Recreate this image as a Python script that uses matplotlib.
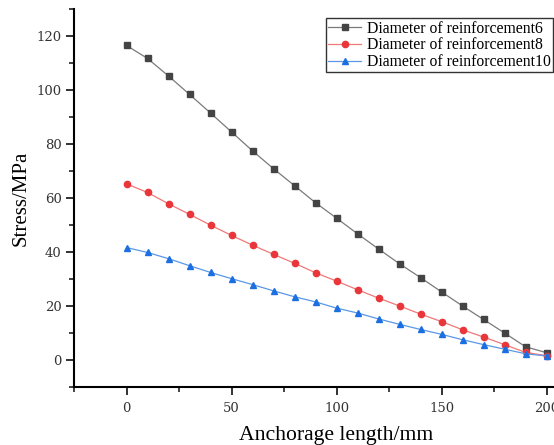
import matplotlib
matplotlib.use("Agg")
import matplotlib.pyplot as plt
from matplotlib.ticker import MultipleLocator

x = [0, 10, 20, 30, 40, 50, 60, 70, 80, 90, 100, 110, 120, 130, 140, 150, 160, 170, 180, 190, 200]
d6 = [116.4, 111.6, 105.1, 98.3, 91.4, 84.4, 77.4, 70.8, 64.5, 58.2, 52.5, 46.7, 41.1, 35.6, 30.5, 25.2, 20.0, 15.0, 10.0, 4.9, 2.7]
d8 = [65.2, 62.0, 57.8, 53.9, 49.9, 46.1, 42.5, 39.1, 35.8, 32.3, 29.2, 26.0, 22.9, 20.0, 17.0, 14.2, 11.2, 8.5, 5.7, 2.8, 1.6]
d10 = [41.6, 39.8, 37.5, 34.9, 32.4, 30.1, 27.9, 25.6, 23.4, 21.5, 19.2, 17.4, 15.2, 13.2, 11.3, 9.5, 7.5, 5.7, 4.0, 2.3, 1.5]
labels = ["Diameter of reinforcement6", "Diameter of reinforcement8", "Diameter of reinforcement10"]

plt.rcParams['font.family'] = ['Liberation Serif', 'DejaVu Serif']

fig = plt.figure(figsize=(5.54, 4.45), dpi=100)
ax = fig.add_axes([0.1336, 0.1303, 0.8908, 0.8501])

ax.plot(x, d6, color='#7a7a7a', lw=0.9, marker='s', ms=4.5, mfc='#444444', mec='#444444', label=labels[0])
ax.plot(x, d8, color='#f07878', lw=0.9, marker='o', ms=4.5, mfc='#e8363a', mec='#e8363a', label=labels[1])
ax.plot(x, d10, color='#5a98e6', lw=0.9, marker='^', ms=5, mfc='#1c6fe0', mec='#1c6fe0', label=labels[2])

ax.set_xlim(-25, 210)
ax.set_ylim(-10, 130)
ax.xaxis.set_major_locator(MultipleLocator(50))
ax.xaxis.set_minor_locator(MultipleLocator(25))
ax.yaxis.set_major_locator(MultipleLocator(20))
ax.yaxis.set_minor_locator(MultipleLocator(10))
ax.spines['top'].set_visible(False)
ax.spines['right'].set_visible(False)
ax.spines['left'].set_linewidth(1.5)
ax.spines['bottom'].set_linewidth(1.5)
ax.tick_params(which='major', direction='out', length=6, width=1.3, colors='#222222')
ax.tick_params(which='minor', direction='out', length=3.5, width=1.2, colors='#222222')
ax.tick_params(axis='x', which='major', pad=5)
ax.tick_params(axis='y', which='major', pad=3)
for t in ax.get_xticklabels() + ax.get_yticklabels():
    t.set_color('#333333')
    t.set_family('DejaVu Serif')
    t.set_fontsize(9.5)

ax.set_xlabel('Anchorage length/mm', fontsize=15.6)
ax.xaxis.set_label_coords(0.531, -0.103)
ax.set_ylabel('Stress/MPa', fontsize=15, labelpad=4)

leg = ax.legend(loc='upper left', bbox_to_anchor=(0.5106, 0.975), fontsize=11.3, frameon=True,
                fancybox=False, edgecolor='#333333', framealpha=1, handlelength=2.1,
                borderpad=0.15, labelspacing=0.05, handletextpad=0.35, borderaxespad=0)
leg.get_frame().set_linewidth(1.0)

fig.savefig('out.png', dpi=100)
